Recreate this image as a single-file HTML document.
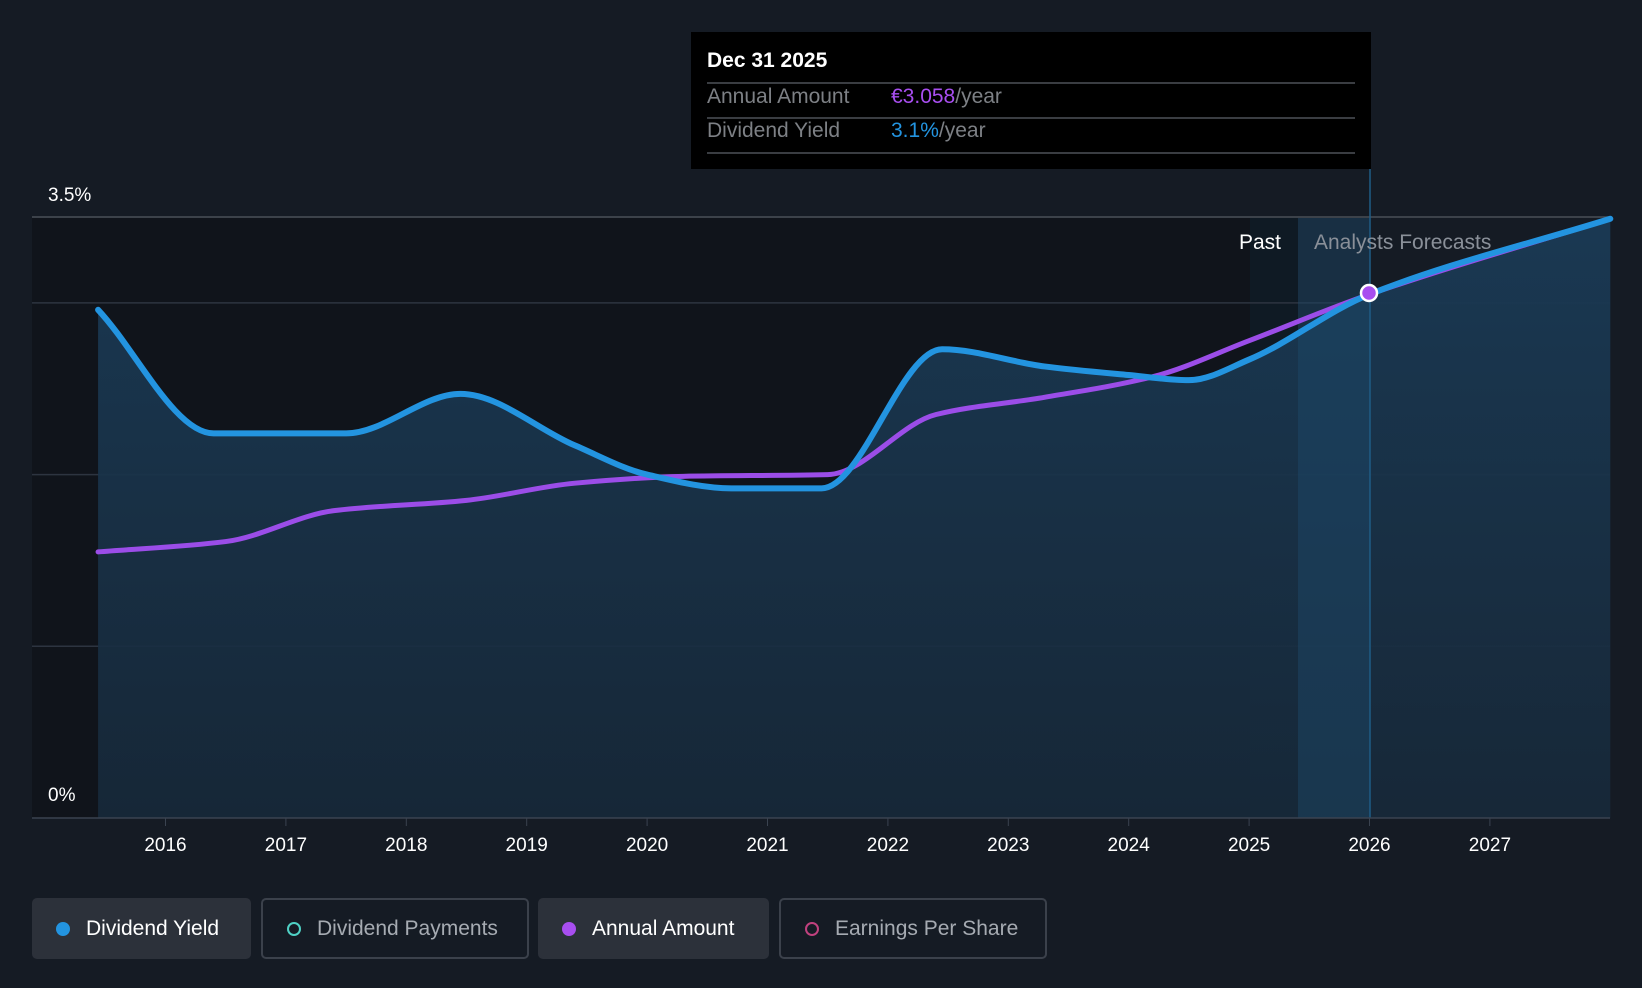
<!DOCTYPE html>
<html><head><meta charset="utf-8"><style>
html,body{margin:0;padding:0;background:#151b24;width:1642px;height:988px;overflow:hidden;font-family:"Liberation Sans",sans-serif}
.leg{position:absolute;top:898px;height:61px;box-sizing:border-box;border-radius:5px;display:flex;align-items:center;font-size:21px}
.leg .d{width:14px;height:14px;border-radius:50%;box-sizing:border-box;margin:0 16px 0 24px}
</style></head><body>
<svg id="chart" width="1642" height="988" style="position:absolute;left:0;top:0" xmlns="http://www.w3.org/2000/svg">
<defs>
<linearGradient id="fillg" x1="0" y1="0" x2="0" y2="1"><stop offset="0" stop-color="#1a3a55" stop-opacity="0.95"/><stop offset="1" stop-color="#17293a" stop-opacity="0.9"/></linearGradient>
</defs>
<rect x="32" y="218" width="1218" height="600" fill="#10141b"/>
<rect x="1250" y="218" width="48" height="600" fill="#0f1a24"/>
<g id="grid"></g>
<path id="area" fill="url(#fillg)"/>
<rect x="1298" y="218" width="72" height="600" fill="#1d4a6b" opacity="0.45"/>
<line x1="1370" y1="169" x2="1370" y2="818" stroke="#1f5c85" stroke-width="1.5"/>
<path id="amount" fill="none" stroke="#9b4de8" stroke-width="5" stroke-linecap="round"/>
<path id="yield" fill="none" stroke="#2394e0" stroke-width="6" stroke-linecap="round"/>
<circle cx="1369" cy="293" r="8" fill="#a84ef0" stroke="#fff" stroke-width="2.5"/>
<text x="1281" y="249" fill="#fff" font-size="21" text-anchor="end">Past</text>
<text x="1314" y="249" fill="#8a9099" font-size="21">Analysts Forecasts</text>
<text x="48" y="201" fill="#fff" font-size="19">3.5%</text>
<text x="48" y="801" fill="#fff" font-size="19">0%</text>
<line x1="32" y1="818" x2="1610" y2="818" stroke="#3a4350" stroke-width="1.5"/>
<g id="xt"></g>
</svg>
<div style="position:absolute;left:691px;top:32px;width:680px;height:137px;background:#000;color:#fff;font-size:21px">
<div style="position:absolute;left:16px;top:17px;font-weight:bold;font-size:21px">Dec 31 2025</div>
<div style="position:absolute;left:16px;right:16px;top:50px;border-top:2px solid #3a3d42"></div>
<div style="position:absolute;left:16px;top:53px;color:#7d8085">Annual Amount</div>
<div style="position:absolute;left:200px;top:53px;color:#7d8085"><span style="color:#a84ef0">€3.058</span>/year</div>
<div style="position:absolute;left:16px;right:16px;top:85px;border-top:2px solid #3a3d42"></div>
<div style="position:absolute;left:16px;top:87px;color:#7d8085">Dividend Yield</div>
<div style="position:absolute;left:200px;top:87px;color:#7d8085"><span style="color:#2394e0">3.1%</span>/year</div>
<div style="position:absolute;left:16px;right:16px;top:120px;border-top:2px solid #3a3d42"></div>
</div>
<div class="leg" style="left:32px;width:219px;background:#2c313a;color:#fff"><span class="d" style="background:#2394e0"></span>Dividend Yield</div>
<div class="leg" style="left:261px;width:268px;border:2px solid #3b414b;color:#a6abb2"><span class="d" style="border:2px solid #4fd1c5"></span>Dividend Payments</div>
<div class="leg" style="left:538px;width:231px;background:#2c313a;color:#fff"><span class="d" style="background:#a84ef0"></span>Annual Amount</div>
<div class="leg" style="left:779px;width:268px;border:2px solid #3b414b;color:#a6abb2"><span class="d" style="border:2px solid #c0417e"></span>Earnings Per Share</div>
<script>
const yieldX=[2015.44,2016.4,2017.5,2018.45,2019.4,2020.0,2020.7,2021.45,2022.45,2023.3,2024.0,2024.5,2025.0,2026.0,2028.0];
const yieldV=[2.96,2.24,2.24,2.47,2.17,2.0,1.92,1.92,2.73,2.63,2.58,2.55,2.67,3.05,3.49];
const amtX=[2015.44,2016.5,2017.4,2018.5,2019.4,2020.3,2021.5,2022.4,2023.3,2024.2,2025.0,2026.0,2028.0];
const amtV=[1.55,1.61,1.79,1.85,1.95,1.99,2.0,2.35,2.45,2.57,2.78,3.05,3.49];
const years=[2016,2017,2018,2019,2020,2021,2022,2023,2024,2025,2026,2027];
const gridV=[1,2,3,3.5];
const X=t=>165.5+(t-2016)*120.4, Y=v=>818-v*171.7;
const NS="http://www.w3.org/2000/svg";
function mono(xs,ys){const n=xs.length,d=[],m=[];for(let i=0;i<n-1;i++)d.push((ys[i+1]-ys[i])/(xs[i+1]-xs[i]));
m[0]=d[0];m[n-1]=d[n-2];for(let i=1;i<n-1;i++)m[i]=d[i-1]*d[i]<=0?0:2/(1/d[i-1]+1/d[i]);
let p="M"+xs[0]+","+ys[0];for(let i=0;i<n-1;i++){const h=(xs[i+1]-xs[i])/3;p+=`C${xs[i]+h},${ys[i]+m[i]*h} ${xs[i+1]-h},${ys[i+1]-m[i+1]*h} ${xs[i+1]},${ys[i+1]}`;}return p;}
const yp=mono(yieldX.map(X),yieldV.map(Y));
document.getElementById('yield').setAttribute('d',yp);
document.getElementById('area').setAttribute('d',yp+`L${X(yieldX[yieldX.length-1])},818L${X(yieldX[0])},818Z`);
document.getElementById('amount').setAttribute('d',mono(amtX.map(X),amtV.map(Y)));
const g=document.getElementById('grid');
gridV.forEach(v=>{const l=document.createElementNS(NS,'line');


l.setAttribute('x1',32);l.setAttribute('x2',1610);l.setAttribute('y1',Y(v));l.setAttribute('y2',Y(v));l.setAttribute('stroke',v==3.5?'#4a4f57':'#2d3440');l.setAttribute('stroke-width',1.5);g.appendChild(l);});
const xt=document.getElementById('xt');
years.forEach(y=>{const l=document.createElementNS(NS,'line');


l.setAttribute('x1',X(y));l.setAttribute('x2',X(y));l.setAttribute('y1',818);l.setAttribute('y2',826);l.setAttribute('stroke','#3a4350');xt.appendChild(l);
const t=document.createElementNS(NS,'text');


t.setAttribute('x',X(y));t.setAttribute('y',851);t.setAttribute('fill','#fff');t.setAttribute('font-size','19');t.setAttribute('text-anchor','middle');t.textContent=y;xt.appendChild(t);});
</script>
</body></html>
